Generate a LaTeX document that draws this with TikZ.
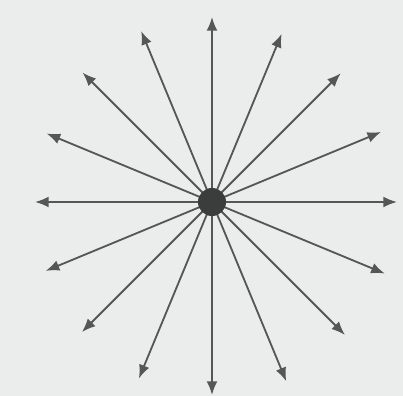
\documentclass[tikz,border=0pt]{standalone}
\usepackage{xcolor}
\usepackage{tikz}
\usetikzlibrary{calc,arrows.meta}
\definecolor{paper}{HTML}{EAEDEB}
\definecolor{rayline}{HTML}{555755}
\definecolor{dotfill}{HTML}{3A3D3B}

\tikzset{
  ray/.style={rayline, line width=1.3pt, -{Latex[length=3.4mm, width=2.7mm]}},
  source/.style={circle, fill=dotfill, inner sep=0pt, minimum size=0.7cm}
}

\begin{document}
\begin{tikzpicture}[x=0.025cm, y=0.025cm]

% Paper background
\fill[paper] (0,0) rectangle (403,396);
\useasboundingbox (0,0) rectangle (403,396);

% Point source
\coordinate (c) at (212,194);

% Rays: angle / length
\foreach \a/\r [count=\i] in {0/185, 22.5/183, 45/182, 67.5/182, 90/185, 112.5/185,
    135/183, 157.5/179, 180/177, 202.5/180, 225/184, 247.5/191,
    270/193, 292.5/194, 315/188, 337.5/187} {
  \coordinate (tip\i) at ($(c)+(\a:\r)$);
  \draw[ray] (c) -- (tip\i);
}

\node[source] (src) at (c) {};

\end{tikzpicture}
\end{document}
